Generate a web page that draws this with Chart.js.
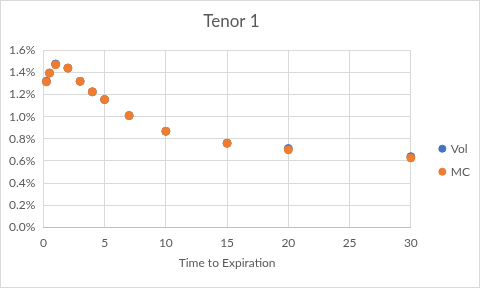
<!DOCTYPE html>
<html>
<head>
<meta charset="utf-8">
<script src="https://cdn.jsdelivr.net/npm/chart.js@4"></script>
<style>
html,body{margin:0;padding:0;background:#fff;}
#wrap{position:relative;width:480px;height:288px;box-sizing:border-box;border:1px solid #d9d9d9;}
</style>
</head>
<body>
<div id="wrap"><canvas id="c"></canvas></div>
<script>
const expiries = [0.25, 0.5, 1, 2, 3, 4, 5, 7, 10, 15, 20, 30];
const volValues = [1.32, 1.395, 1.477, 1.44, 1.32, 1.225, 1.155, 1.01, 0.868, 0.76, 0.712, 0.638];
const mcValues  = [1.315, 1.395, 1.47, 1.44, 1.32, 1.225, 1.155, 1.01, 0.868, 0.76, 0.70, 0.627];
const seriesNames = ['Vol', 'MC'];
const chartTitle = 'Tenor 1';
const xTitle = 'Time to Expiration';

const toPts = (vals) => expiries.map((x, i) => ({x: x, y: vals[i]}));
const FONT = 'Lato, "Open Sans", sans-serif';
const GREY = '#595959';

const legendShift = {
  id: 'legendShift',
  afterLayout(chart) {
    const lg = chart.legend;
    if (lg) { lg.left += 18; lg.right += 18; }
  }
};

new Chart(document.getElementById('c'), {
  type: 'scatter',
  data: {
    datasets: [
      {label: seriesNames[0], data: toPts(volValues), order: 1, clip: false, backgroundColor: '#4472C4', borderColor: '#4472C4', pointRadius: 4, pointHoverRadius: 4},
      {label: seriesNames[1], data: toPts(mcValues), order: 0, clip: false, backgroundColor: '#ED7D31', borderColor: '#ED7D31', pointRadius: 4, pointHoverRadius: 4}
    ]
  },
  plugins: [legendShift],
  options: {
    responsive: true,
    maintainAspectRatio: false,
    animation: false,
    layout: {padding: {left: 0, right: 17, top: 6, bottom: 10}},
    plugins: {
      title: {display: true, text: chartTitle, color: GREY, font: {family: FONT, size: 17, weight: 'normal'}, padding: {top: 4, bottom: 19}},
      legend: {
        position: 'right',
        title: {display: true, text: ' ', padding: 11},
        labels: {usePointStyle: true, pointStyle: 'circle', boxWidth: 5, boxHeight: 5, padding: 11, color: GREY, font: {family: FONT, size: 12},
          sort: (a, b) => a.datasetIndex - b.datasetIndex}
      },
      tooltip: {enabled: false}
    },
    scales: {
      x: {
        type: 'linear', min: 0, max: 30,
        ticks: {stepSize: 5, color: GREY, font: {family: FONT, size: 12}, padding: 9},
        grid: {color: '#d9d9d9', drawTicks: false},
        border: {color: '#bfbfbf'},
        title: {display: true, text: xTitle, color: GREY, font: {family: FONT, size: 12}, padding: {top: -4, bottom: 7}}
      },
      y: {
        min: 0, max: 1.6,
        ticks: {stepSize: 0.2, color: GREY, font: {family: FONT, size: 12}, padding: 8, callback: v => v.toFixed(1) + '%'},
        grid: {color: '#d9d9d9', drawTicks: false},
        border: {display: false}
      }
    }
  }
});
</script>
</body>
</html>
